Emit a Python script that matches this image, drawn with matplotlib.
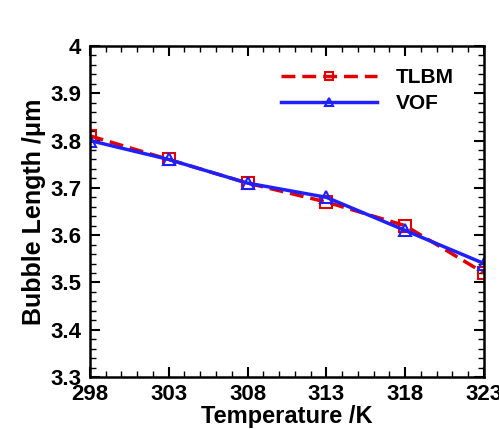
import matplotlib
matplotlib.use("Agg")
import matplotlib.pyplot as plt
from matplotlib.ticker import MultipleLocator

plt.rcParams['font.family'] = ['Liberation Sans', 'DejaVu Sans']
plt.rcParams['font.weight'] = 'bold'

temps = [298, 303, 308, 313, 318, 323]
tlbm = [3.81, 3.76, 3.71, 3.67, 3.62, 3.52]
vof = [3.80, 3.76, 3.71, 3.68, 3.61, 3.54]

fig = plt.figure(figsize=(4.99, 4.29), dpi=100)
ax = fig.add_axes([0.180, 0.121, 0.790, 0.772])

ax.plot(temps, tlbm, color='#e00000', lw=2.5, ls=(0, (4, 2)), marker='s', ms=8,
        mfc='none', mec='#e00000', mew=1.5, label='TLBM')
ax.plot(temps, vof, color='#2020ff', lw=2.5, marker='^', ms=8,
        mfc='none', mec='#2020ff', mew=1.5, label='VOF')

ax.set_xlim(298, 323)
ax.set_ylim(3.3, 4.0)
ax.set_xticks(temps)
ax.set_yticks([3.3, 3.4, 3.5, 3.6, 3.7, 3.8, 3.9, 4.0])
ax.set_yticklabels(['3.3', '3.4', '3.5', '3.6', '3.7', '3.8', '3.9', '4'])
ax.xaxis.set_minor_locator(MultipleLocator(1))
ax.yaxis.set_minor_locator(MultipleLocator(0.02))
ax.tick_params(which='both', direction='in', top=True, right=True, labelsize=16, width=1.5)
ax.tick_params(which='major', length=7)
ax.tick_params(which='minor', length=4, width=1)
ax.tick_params(axis='x', pad=5)
ax.tick_params(axis='y', pad=6)
for s in ax.spines.values():
    s.set_linewidth(1.8)

ax.set_xlabel('Temperature /K', fontsize=17, fontweight='bold', labelpad=0)
ax.set_ylabel('Bubble Length /\u03bcm', fontsize=18, fontweight='bold', labelpad=3)

ax.legend(loc='upper right', bbox_to_anchor=(0.97, 0.99), frameon=False, fontsize=15,
          handlelength=4.6, handletextpad=0.9, labelspacing=0.35, markerscale=0.8)

fig.savefig('out.png', dpi=100)
